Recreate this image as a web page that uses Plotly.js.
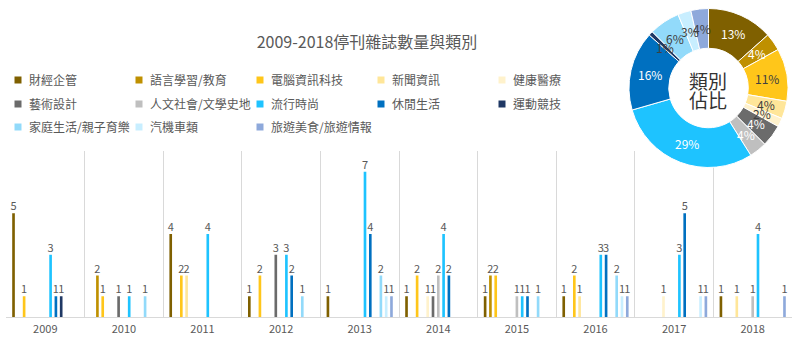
<!DOCTYPE html>
<html><head><meta charset="utf-8">
<script src="https://cdn.plot.ly/plotly-3.0.1.min.js"></script>
<style>html,body{margin:0;padding:0;background:#fff}#chart{width:800px;height:339px}
.infolayer g.scrollbox{transform:translateX(-11px); clip-path:none !important}
.infolayer g.legendpoints{transform:translateX(9px)}</style>
</head><body><div id="chart"></div>
<script>
// ---- data ----
const years = ['2009','2010','2011','2012','2013','2014','2015','2016','2017','2018'];
const categories = ['財經企管','語言學習/教育','電腦資訊科技','新聞資訊','健康醫療','藝術設計','人文社會/文學史地','流行時尚','休閒生活','運動競技','家庭生活/親子育樂','汽機車類','旅遊美食/旅遊情報'];
const finance   = [5,0,4,1,1,1,1,1,0,1];
const language  = [0,2,0,0,0,0,2,0,0,0];
const computer  = [1,1,2,2,0,2,2,2,0,0];
const news      = [0,0,2,0,0,0,0,1,0,1];
const health    = [0,0,0,0,0,1,0,0,1,0];
const art       = [0,1,0,3,0,1,0,0,0,0];
const humanity  = [0,0,0,0,0,2,1,0,0,1];
const fashion   = [3,1,4,3,7,4,1,3,3,4];
const leisure   = [1,0,0,2,4,2,1,3,5,0];
const sports    = [1,0,0,0,0,0,0,0,0,0];
const family    = [0,1,0,1,2,0,1,2,0,0];
const motor     = [0,0,0,0,1,0,0,1,1,0];
const travel    = [0,0,0,0,1,0,0,1,1,1];
const series = [finance,language,computer,news,health,art,humanity,fashion,leisure,sports,family,motor,travel];
const colors = ['#7F6000','#BF9000','#FFC61A','#FFE699','#FFF2CC','#6B6B6B','#BFBFBF','#1EC3FF','#0070C0','#1F3864','#92DAFA','#C8EEFF','#8EA9DB'];

// ---- geometry ----
const W = 800, H = 339;
const M = {l:6, r:8, t:0, b:22};
const PW = W - M.l - M.r, PH = H - M.t - M.b;
const FONT = '"Noto Sans CJK TC", "Noto Sans", sans-serif';
const donut = {cx:708.5, cy:88, r:79.5, hole:0.5};
const px2x = x => (x - M.l) / PW;
const px2y = y => 1 - (y - M.t) / PH;

const totals = series.map(s => s.reduce((a,b)=>a+b,0));
const grand = totals.reduce((a,b)=>a+b,0);

const traces = [];
series.forEach((s,i) => {
  traces.push({
    type:'bar', x: years, y: s, name: categories[i],
    marker:{color: colors[i]},
    text: s.map(v => v > 0 ? String(v) : ''),
    textposition:'outside', constraintext:'none', cliponaxis:false,
    textfont:{size:11, color:'#595959', family: FONT},
    showlegend:false, hoverinfo:'x+y+name'
  });
});
series.forEach((s,i) => {
  traces.push({
    type:'scatter', x:[null], y:[null], mode:'markers', name: categories[i],
    marker:{symbol:'square', size:7, color: colors[i]},
    legend: i < 5 ? 'legend' : (i < 10 ? 'legend2' : 'legend3'),
    showlegend:true, hoverinfo:'skip'
  });
});
traces.push({
  type:'pie', values: totals, labels: categories, sort:false, direction:'clockwise', rotation:0,
  hole: donut.hole, textinfo:'none', showlegend:false,
  marker:{colors: colors, line:{color:'#ffffff', width:1}},
  domain:{x:[px2x(donut.cx - donut.r), px2x(donut.cx + donut.r)], y:[px2y(donut.cy + donut.r), px2y(donut.cy - donut.r)]}
});

// percentage labels placed in the middle of each ring segment
const darkText = [false,false,true,true,true,false,false,false,false,true,true,true,true];
const annotations = [];
let cum = 0;
const rm = donut.r * (1 + donut.hole) / 2;
totals.forEach((v,i) => {
  const th = (cum + v/2) / grand * 2 * Math.PI;
  cum += v;
  const x = donut.cx + rm * Math.sin(th), y = donut.cy - rm * Math.cos(th);
  annotations.push({xref:'paper', yref:'paper', x: px2x(x), y: px2y(y), showarrow:false,
    text: Math.round(v / grand * 100) + '%', xanchor:'center', yanchor:'middle',
    font:{size:12, color: darkText[i] ? '#404040' : '#ffffff', family: FONT}});
});
annotations.push({xref:'paper', yref:'paper', x: px2x(donut.cx - 1), y: px2y(80), xanchor:'center', yanchor:'middle',
  showarrow:false, text:'類別', font:{size:19, color:'#333333', family: FONT}});
annotations.push({xref:'paper', yref:'paper', x: px2x(donut.cx - 1), y: px2y(99), xanchor:'center', yanchor:'middle',
  showarrow:false, text:'佔比', font:{size:19, color:'#333333', family: FONT}});

const legendBase = {orientation:'h', xref:'container', yref:'container', xanchor:'left', yanchor:'middle',
  entrywidth:76, entrywidthmode:'pixels',
  font:{size:12, color:'#595959', family: FONT}, bgcolor:'rgba(0,0,0,0)', borderwidth:0, x: 0, traceorder:'normal'};

const layout = {
  width: W, height: H, margin: Object.assign({autoexpand:false}, M), paper_bgcolor:'#ffffff', plot_bgcolor:'#ffffff',
  font:{family: FONT, color:'#595959'},
  title:{text:'2009-2018停刊雜誌數量與類別', font:{size:16, color:'#595959', family: FONT},
    xref:'container', x: 367/W, xanchor:'center', yref:'container', y: 1 - 42/H, yanchor:'middle'},
  barmode:'group', bargap:0.124, bargroupgap:0.5,
  xaxis:{type:'category', range:[-0.5, 9.5], tickson:'boundaries', showgrid:true, gridcolor:'#D9D9D9', gridwidth:1,
    showline:true, linecolor:'#D9D9D9', linewidth:1, ticks:'', ticklabelstandoff:2,
    tickfont:{size:11, color:'#595959', family: FONT}, fixedrange:true},
  yaxis:{domain:[0, (PH - 151) / PH], range:[0, 8], visible:false, fixedrange:true},
  legend: Object.assign({}, legendBase, {y: 1 - 80/H}),
  legend2: Object.assign({}, legendBase, {y: 1 - 104/H}),
  legend3: Object.assign({}, legendBase, {y: 1 - 127/H}),
  annotations: annotations,
  showlegend:true
};
Plotly.newPlot('chart', traces, layout, {displayModeBar:false, staticPlot:true});
</script></body></html>
